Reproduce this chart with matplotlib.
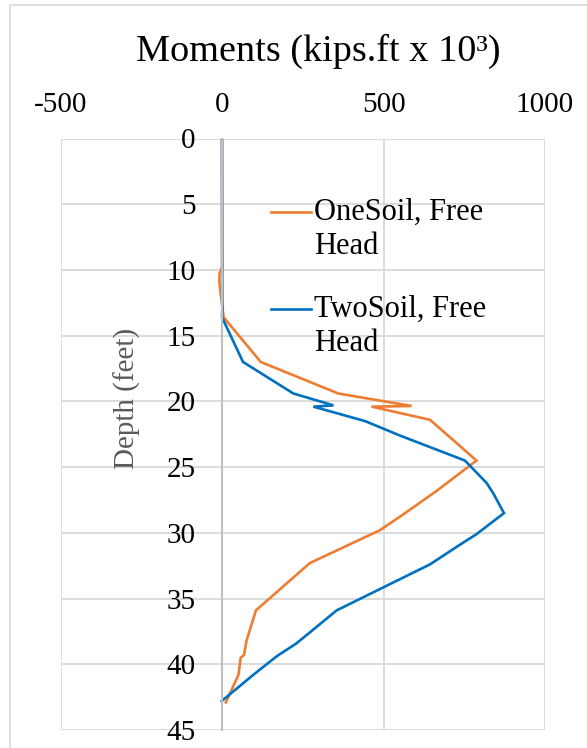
import numpy as np
import matplotlib
matplotlib.use("Agg")
import matplotlib.pyplot as plt
from matplotlib.legend_handler import HandlerLine2D
from matplotlib.patches import Rectangle

# Bending moment profiles along the pile (depth in feet, moment in kips.ft x 10^3)
one_soil_depth = [0, 9.8, 10.3, 11.0, 13.6, 17.0, 19.4, 20.35, 20.4, 21.4, 24.5,
                  26.8, 28.6, 29.8, 32.3, 35.9, 38.2, 39.3, 39.5, 40.8, 42.9]
one_soil_moment = [0, 0, -8, -8, 5, 120, 360, 587, 463, 644, 788,
                   665, 561, 489, 272, 105, 76, 68, 58, 51, 12]

two_soil_depth = [0, 13.0, 13.6, 17.0, 19.4, 20.3, 20.4, 21.5, 22.6, 24.5, 26.2,
                  27.0, 28.5, 30.1, 30.9, 32.4, 35.9, 38.4, 39.3, 39.4, 40.8, 42.8]
two_soil_moment = [0, 1, 0, 65, 221, 345, 283, 443, 551, 752, 819,
                   840, 873, 788, 737, 644, 355, 231, 175, 169, 97, -1]

series_labels = ["OneSoil, Free\nHead", "TwoSoil, Free\nHead"]
x_ticks = [-500, 0, 500, 1000]
y_ticks = [0, 5, 10, 15, 20, 25, 30, 35, 40, 45]

ORANGE = "#ED7D31"
BLUE = "#0070C0"
GRID = "#D9D9D9"

plt.rcParams["font.family"] = ["Liberation Serif", "DejaVu Serif"]

W, H = 587, 748
fig = plt.figure(figsize=(W / 100, H / 100), dpi=100)
fig.patch.set_facecolor("white")

# Outer chart frame
fig.patches.append(Rectangle((10 / W, -0.1), 2.0, 1.1 - 5 / H, transform=fig.transFigure,
                             fill=False, edgecolor="#D9D9D9", linewidth=1.2))

left, right, top, bottom = 60.5, 545, 138.5, 730
ax = fig.add_axes([left / W, 1 - bottom / H, (right - left) / W, (bottom - top) / H])

ax.plot(one_soil_moment, one_soil_depth, color=ORANGE, lw=1.9, label=series_labels[0],
        solid_joinstyle="miter")
ax.plot(two_soil_moment, two_soil_depth, color=BLUE, lw=1.9, label=series_labels[1],
        solid_joinstyle="miter")

ax.set_xlim(-500, 1000)
ax.set_ylim(45, 0)
ax.set_xticks(x_ticks)
ax.set_yticks(y_ticks)
ax.set_xticklabels([str(v) for v in x_ticks])
ax.set_yticklabels([str(v) for v in y_ticks])

ax.xaxis.tick_top()
ax.tick_params(axis="x", length=0, pad=15, labelsize=21, colors="black")
ax.tick_params(axis="y", length=0, pad=19, labelsize=21, colors="black")

ax.grid(True, color=GRID, lw=1.3)
ax.set_axisbelow(True)
for s in ["top", "right", "bottom"]:
    ax.spines[s].set_visible(False)
ax.spines["left"].set_position(("data", 0))
ax.spines["left"].set_color("#BFBFBF")
ax.spines["left"].set_linewidth(1.5)


class FirstLineHandler(HandlerLine2D):
    """Line key aligned with the first line of a two-line label."""

    def __init__(self, shift, **kw):
        super().__init__(**kw)
        self.shift = shift

    def create_artists(self, legend, orig_handle, xdescent, ydescent, width, height,
                       fontsize, trans):
        artists = super().create_artists(legend, orig_handle, xdescent, ydescent,
                                         width, height, fontsize, trans)
        for a in artists:
            a.set_ydata(np.asarray(a.get_ydata(), dtype=float) + self.shift)
        return artists


lines = ax.get_lines()
handler = FirstLineHandler(13.0)
leg = fig.legend(handles=lines, labels=series_labels, loc="upper left",
                 bbox_to_anchor=(271 / W, 1 - 198 / H), frameon=False, borderpad=0,
                 borderaxespad=0, fontsize=22, handlelength=1.3, handletextpad=0.1,
                 labelspacing=1.08, handler_map={l: handler for l in lines})
for t in leg.get_texts():
    t.set_linespacing(1.25)

fig.text(318.5 / W, 1 - 60.7 / H, "Moments (kips.ft x 10³)", ha="center", va="baseline",
         fontsize=27.5, color="black")
fig.text(127 / W, 1 - 398 / H, "Depth (feet)", ha="center", va="center", rotation=90,
         fontsize=21, color="#595959")

fig.savefig("out.png", dpi=100, facecolor="white")
